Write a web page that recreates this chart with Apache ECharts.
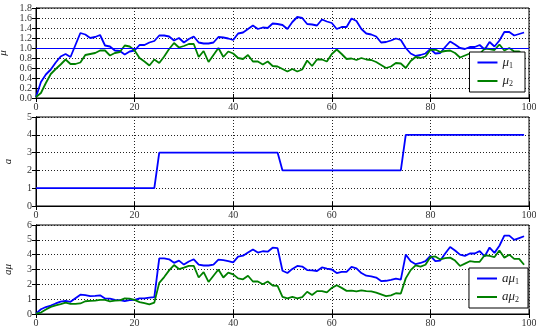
<!DOCTYPE html>
<html><head><meta charset="utf-8">
<script src="https://cdn.jsdelivr.net/npm/echarts@6/dist/echarts.min.js"></script>
<style>html,body{margin:0;padding:0;background:#fff}#c{width:536px;height:332px}</style>
</head><body><div id="c"></div><script>
const mu1 = [0.02,0.32,0.47,0.57,0.71,0.83,0.88,0.82,1.06,1.30,1.27,1.20,1.22,1.26,1.05,1.03,0.95,0.94,0.87,0.93,0.95,1.06,1.06,1.11,1.14,
1.25,1.25,1.23,1.15,1.20,1.11,1.18,1.23,1.11,1.09,1.09,1.11,1.22,1.21,1.19,1.16,1.29,1.31,1.38,1.45,1.38,1.41,1.40,1.49,1.48,
1.46,1.38,1.52,1.62,1.60,1.48,1.47,1.45,1.57,1.53,1.50,1.38,1.42,1.42,1.59,1.54,1.38,1.29,1.27,1.23,1.11,1.12,1.15,1.19,1.16,
1.00,0.89,0.84,0.86,0.89,0.98,0.89,0.90,1.02,1.13,1.07,1.00,0.98,1.02,1.02,1.06,0.97,1.12,1.03,1.15,1.32,1.32,1.25,1.28,1.31];
const mu2 = [0.02,0.10,0.30,0.48,0.58,0.67,0.77,0.68,0.68,0.71,0.86,0.88,0.90,0.95,0.95,0.85,0.90,0.92,1.05,1.03,0.95,0.80,0.73,0.65,0.77,
0.70,0.83,0.98,1.10,1.01,1.04,1.08,1.08,0.82,0.94,0.72,0.86,1.00,0.82,0.93,0.89,0.80,0.78,0.86,0.73,0.73,0.67,0.73,0.64,0.63,
0.58,0.53,0.58,0.53,0.57,0.75,0.64,0.77,0.77,0.73,0.88,0.97,0.88,0.78,0.79,0.76,0.80,0.77,0.76,0.72,0.66,0.60,0.63,0.70,0.69,
0.60,0.74,0.82,0.80,0.83,0.96,0.97,0.92,0.94,0.95,0.90,0.81,0.85,0.89,0.88,0.88,0.99,0.98,0.96,1.07,0.95,1.00,0.93,0.93,0.83];
const aVals = [1,1,1,1,1,1,1,1,1,1,1,1,1,1,1,1,1,1,1,1,1,1,1,1,1,
3,3,3,3,3,3,3,3,3,3,3,3,3,3,3,3,3,3,3,3,3,3,3,3,3,
2,2,2,2,2,2,2,2,2,2,2,2,2,2,2,2,2,2,2,2,2,2,2,2,2,
4,4,4,4,4,4,4,4,4,4,4,4,4,4,4,4,4,4,4,4,4,4,4,4,4];
const aMu1 = [0.02,0.32,0.47,0.57,0.71,0.83,0.88,0.82,1.06,1.30,1.27,1.20,1.22,1.26,1.05,1.03,0.95,0.94,0.87,0.93,0.95,1.06,1.06,1.11,1.14,
3.75,3.75,3.69,3.45,3.60,3.33,3.54,3.69,3.33,3.27,3.27,3.33,3.66,3.63,3.57,3.48,3.87,3.93,4.14,4.35,4.14,4.23,4.20,4.47,4.44,
2.92,2.76,3.04,3.24,3.20,2.96,2.94,2.90,3.14,3.06,3.00,2.76,2.84,2.84,3.18,3.08,2.76,2.58,2.54,2.46,2.22,2.24,2.30,2.38,2.32,
4.00,3.56,3.36,3.44,3.56,3.92,3.56,3.60,4.08,4.52,4.28,4.00,3.92,4.08,4.08,4.24,3.88,4.48,4.12,4.60,5.28,5.28,5.00,5.12,5.24];
const aMu2 = [0.02,0.10,0.30,0.48,0.58,0.67,0.77,0.68,0.68,0.71,0.86,0.88,0.90,0.95,0.95,0.85,0.90,0.92,1.05,1.03,0.95,0.80,0.73,0.65,0.77,
2.10,2.49,2.94,3.30,3.03,3.12,3.24,3.24,2.46,2.82,2.16,2.58,3.00,2.46,2.79,2.67,2.40,2.34,2.58,2.19,2.19,2.01,2.19,1.92,1.89,
1.16,1.06,1.16,1.06,1.14,1.50,1.28,1.54,1.54,1.46,1.76,1.94,1.76,1.56,1.58,1.52,1.60,1.54,1.52,1.44,1.32,1.20,1.26,1.40,1.38,
2.40,2.96,3.28,3.20,3.32,3.84,3.88,3.68,3.76,3.80,3.60,3.24,3.40,3.56,3.52,3.52,3.96,3.92,3.84,4.28,3.80,4.00,3.72,3.72,3.32];
const refLevel = 1.0;
const xTicks = [0, 20, 40, 60, 80, 100];
const yRanges = [{min:0,max:1.8,interval:0.2,dec:1},{min:0,max:5,interval:1,dec:0},{min:0,max:6,interval:1,dec:0}];
const yNames = ['μ', 'a', 'aμ'];
const legendNames = [['μ1','μ2'], null, ['aμ1','aμ2']];

const pair = arr => arr.map((v, i) => [i, v]);

const FONT = 'Liberation Serif';
const grids = [{top:8,height:90},{top:117,height:89},{top:225,height:89}];
const option = {
  animation: false,
  backgroundColor: '#fff',
  grid: grids.map(g => ({left:36, right:7, top:g.top, height:g.height, containLabel:false, outerBoundsMode:'none',
    show:true, borderColor:'#000', borderWidth:1, backgroundColor:'transparent'})),
  xAxis: [], yAxis: [], series: [], legend: []
};
grids.forEach((g, k) => {
  const base = {gridIndex:k, type:'value', min:xTicks[0], max:xTicks[xTicks.length-1], interval:20};
  option.xAxis.push(Object.assign({}, base, {position:'bottom',
    axisLine:{show:true, onZero:false, lineStyle:{color:'#000'}},
    axisTick:{show:true, inside:true, length:4, lineStyle:{color:'#000'}},
    axisLabel:{color:'#333', fontFamily:FONT, fontSize:10, margin:4},
    splitLine:{show:true, lineStyle:{color:'#222', type:[1,2], width:1}}}));
  option.xAxis.push(Object.assign({}, base, {position:'top',
    axisLine:{show:true, lineStyle:{color:'#000'}},
    axisTick:{show:true, inside:true, length:4, lineStyle:{color:'#000'}},
    axisLabel:{show:false}, splitLine:{show:false}}));
  const yr = yRanges[k];
  const ybase = {gridIndex:k, type:'value', min:yr.min, max:yr.max, interval:yr.interval};
  option.yAxis.push(Object.assign({}, ybase, {position:'left',
    name: yNames[k], nameLocation:'middle', nameGap:22, nameRotate:90,
    nameTextStyle:{fontFamily:FONT, fontStyle:'italic', fontSize:11, color:'#222'},
    axisLine:{show:true, onZero:false, lineStyle:{color:'#000'}},
    axisTick:{show:true, inside:true, length:4, lineStyle:{color:'#000'}},
    axisLabel:{color:'#333', fontFamily:FONT, fontSize:10, margin:4, formatter: v => v.toFixed(yr.dec)},
    splitLine:{show:true, lineStyle:{color:'#222', type:[1,2], width:1}}}));
  option.yAxis.push(Object.assign({}, ybase, {position:'right',
    axisLine:{show:true, lineStyle:{color:'#000'}},
    axisTick:{show:true, inside:true, length:4, lineStyle:{color:'#000'}},
    axisLabel:{show:false}, splitLine:{show:false}}));
});
const lineSeries = (name, data, k, color, extra) => Object.assign({
  name, type:'line', xAxisIndex:2*k, yAxisIndex:2*k, data:pair(data), symbol:'none',
  lineStyle:{color, width:1.8}, itemStyle:{color}, z:3
}, extra || {});
option.series.push(lineSeries('μ1', mu1, 0, '#0000ff', {
  markLine:{silent:true, symbol:'none', label:{show:false}, lineStyle:{color:'#0000ff', width:1, type:'solid'}, data:[{yAxis:refLevel}]}
}));
option.series.push(lineSeries('μ2', mu2, 0, '#008000'));
option.series.push(lineSeries('a', aVals, 1, '#0000ff'));
option.series.push(lineSeries('aμ1', aMu1, 2, '#0000ff'));
option.series.push(lineSeries('aμ2', aMu2, 2, '#008000'));

const legendRich = {
  i:{fontFamily:FONT, fontStyle:'italic', fontSize:13, color:'#222'},
  s:{fontFamily:FONT, fontSize:8, color:'#222', padding:[6,0,0,0]}
};
const fmt = name => {
  const sub = name.slice(-1), main = name.slice(0, -1);
  return '{i|' + main + '}{s|' + sub + '}';
};
const legendCommon = {orient:'vertical', icon:'rect', itemWidth:20, itemHeight:2, itemGap:5,
  backgroundColor:'#fff', borderColor:'#000', borderWidth:1, borderRadius:0,
  formatter:fmt, textStyle:{rich:legendRich}};
option.legend.push(Object.assign({data:legendNames[0], right:11, top:52, padding:[4,12,4,8]}, legendCommon));
option.legend.push(Object.assign({data:legendNames[2], right:8, top:268, padding:[4,9,4,8]}, legendCommon));

const chart = echarts.init(document.getElementById('c'), null, {renderer:'canvas'});
chart.setOption(option);
</script></body></html>
